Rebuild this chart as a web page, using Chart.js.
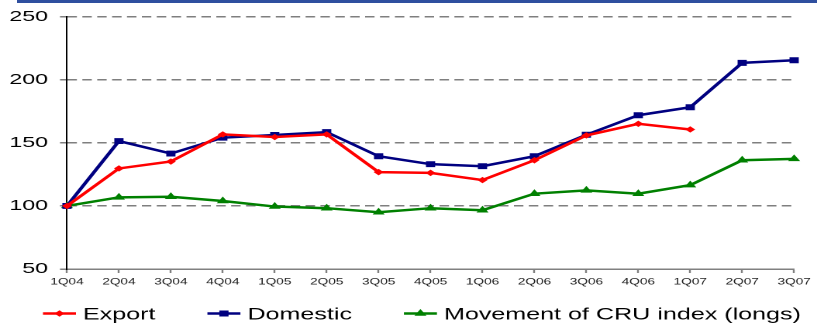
<!DOCTYPE html>
<html>
<head>
<meta charset="utf-8">
<script src="https://cdn.jsdelivr.net/npm/chart.js@4.4.1/dist/chart.umd.min.js"></script>
<style>
  html, body { margin: 0; padding: 0; background: #fff; overflow: hidden; }
  #band { position: absolute; left: 17px; top: 0; width: 800px; height: 3px; background: #2f4f9f; }
  #wrap { position: absolute; left: 0; top: 0; width: 527px; height: 323px;
          transform: scaleX(1.5503); transform-origin: 0 0; }
</style>
</head>
<body>
<div id="wrap"><canvas id="c" width="527" height="323"></canvas></div>
<div id="band"></div>
<script>
// Quarterly price indices (1Q04 = 100)
const quarters = ['1Q04','2Q04','3Q04','4Q04','1Q05','2Q05','3Q05','4Q05','1Q06','2Q06','3Q06','4Q06','1Q07','2Q07','3Q07'];
const exportPrices   = [100, 129.7, 135.2, 156.7, 154.6, 156.7, 126.8, 126.2, 120.5, 136.2, 155.9, 165.1, 160.6, null, null];
const domesticPrices = [100, 151.4, 141.5, 154.1, 156.2, 158.5, 139.4, 133.1, 131.5, 139.4, 156.4, 171.9, 178.2, 213.4, 215.5];
const cruIndex       = [100, 106.8, 107.3, 103.9, 99.5, 98.2, 95.0, 98.2, 96.6, 109.7, 112.3, 109.7, 116.5, 136.2, 137.3];
const yTicks = [50, 100, 150, 200, 250];

const FONT = '"Liberation Sans", Arial, Helvetica, sans-serif';

// Legend drawn as line + marker + label underneath the plot
const lineLegend = {
  id: 'lineLegend',
  afterDraw(chart) {
    const ctx = chart.ctx;
    ctx.save();
    ctx.font = '16.2px ' + FONT;
    ctx.textBaseline = 'alphabetic';
    let x = 27.7;
    const lineY = 313.5;
    const textY = 319.3;
    chart.data.datasets.forEach(ds => {
      ctx.strokeStyle = ds.borderColor;
      ctx.lineWidth = 2.5;
      ctx.beginPath();
      ctx.moveTo(x, lineY);
      ctx.lineTo(x + 21.3, lineY);
      ctx.stroke();
      ctx.fillStyle = ds.pointBackgroundColor;
      ctx.lineWidth = 1;
      Chart.helpers.drawPoint(ctx, { pointStyle: ds.pointStyle, radius: ds.pointRadius, rotation: 0, borderWidth: 1 }, x + 10.65, lineY);
      ctx.fillStyle = '#000';
      ctx.fillText(ds.label, x + 25.8, textY);
      x += 25.8 + ctx.measureText(ds.label).width + 33.5;
    });
    ctx.restore();
  }
};

new Chart(document.getElementById('c'), {
  type: 'line',
  data: {
    labels: quarters,
    datasets: [
      { label: 'Export', data: exportPrices, borderColor: '#ff0000', backgroundColor: '#ff0000',
        pointBackgroundColor: '#ff0000', pointBorderColor: '#ff0000', pointStyle: 'rectRot', pointRadius: 2.5 },
      { label: 'Domestic', data: domesticPrices, borderColor: '#000080', backgroundColor: '#000080',
        pointBackgroundColor: '#000080', pointBorderColor: '#000080', pointStyle: 'rect', pointRadius: 3.5 },
      { label: 'Movement of CRU index (longs)', data: cruIndex, borderColor: '#008000', backgroundColor: '#008000',
        pointBackgroundColor: '#008000', pointBorderColor: '#008000', pointStyle: 'triangle', pointRadius: 3.5 }
    ].map(d => Object.assign(d, { borderWidth: 2.5, tension: 0, fill: false, spanGaps: false, clip: false, pointBorderWidth: 1 }))
  },
  options: {
    responsive: false,
    animation: false,
    devicePixelRatio: 2,
    layout: { padding: { top: 15, right: 12.9, bottom: 0, left: 0 } },
    plugins: { legend: { display: false }, tooltip: { enabled: false } },
    scales: {
      x: {
        type: 'category',
        offset: false,
        afterFit: s => { s.height = 54; },
        grid: { drawOnChartArea: false, drawTicks: true, tickLength: 4, color: '#808080', tickWidth: 1.2 },
        border: { display: true, color: '#808080', width: 1.5 },
        ticks: { color: '#222', font: { family: FONT, size: 8.8 }, padding: 4, maxRotation: 0, autoSkip: false }
      },
      y: {
        min: 50,
        max: 250,
        afterFit: s => { s.width = 43.2; },
        afterBuildTicks: s => { s.ticks = yTicks.map(v => ({ value: v })); },
        grid: { color: '#7f7f7f', lineWidth: 1.5, tickLength: 4.5, tickColor: '#7f7f7f', tickWidth: 1.5 },
        border: { display: true, color: '#000', width: 1, dash: [6.1, 3.5] },
        ticks: { color: '#000', font: { family: FONT, size: 15 }, padding: 7.7 }
      }
    }
  },
  plugins: [lineLegend]
});
</script>
</body>
</html>
